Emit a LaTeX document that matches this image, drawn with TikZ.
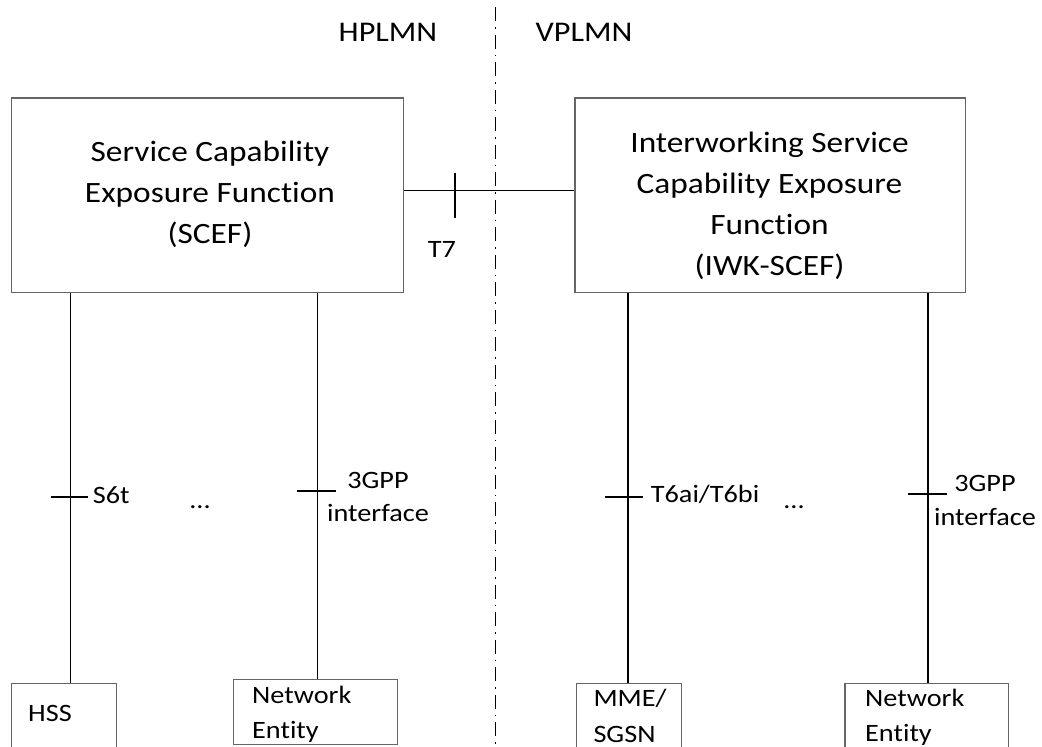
\documentclass[tikz,border=0pt]{standalone}
\usepackage{fontspec}
\setmainfont{Carlito}[FakeStretch=1.13, Ligatures=NoCommon]
\tikzset{
  box/.style={draw=black!60, line width=1.2pt, inner sep=0pt, anchor=north west},
  link/.style={draw=black, line width=1.3pt},
  tickmark/.style={draw=black, line width=1.3pt},
  title/.style={font=\fontsize{28.5}{34}\selectfont, inner sep=0pt, anchor=base},
  boxtext/.style={font=\fontsize{29.5}{41}\selectfont, align=center, inner sep=0pt},
  lbl/.style={font=\fontsize{25}{33.5}\selectfont, inner sep=0pt, anchor=base west},
  lblc/.style={font=\fontsize{25}{33.5}\selectfont, inner sep=0pt, align=center},
  border/.style={draw=black, line width=1.1pt, dash pattern=on 14pt off 6pt on 1.5pt off 6pt}
}
\begin{document}
\begin{tikzpicture}[x=1pt,y=-1pt]
\useasboundingbox (0,0) rectangle (1042,747);
% boxes
\node[box, minimum width=391.9pt, minimum height=194.7pt] (scef) at (10.7,97.3) {};
\node[box, minimum width=390.6pt, minimum height=194.7pt] (iwk) at (574.4,97.3) {};
\node[box, minimum width=105pt, minimum height=90pt] (hss) at (11,682.7) {};
\node[box, minimum width=164.1pt, minimum height=65pt] (ne1) at (232.6,679) {};
\node[box, minimum width=104.7pt, minimum height=90pt] (mme) at (576,682.7) {};
\node[box, minimum width=163.4pt, minimum height=90pt] (ne2) at (844.3,682.7) {};
% box texts
\node[boxtext] (scefT) at (210,194) {Service Capability\\Exposure Function\\(SCEF)};
\node[boxtext] (iwkT) at (769.5,206) {Interworking Service\\Capability Exposure\\Function\\(IWK-SCEF)};
\node[lbl] (hssT) at (28,721.7) {HSS};
\node[lbl] (ne1T) at (252,703.3) {Network};
\node[lbl] (ne1T2) at (252,738.3) {Entity};
\node[lbl] (mmeT) at (593.3,706.7) {MME/};
\node[lbl] (mmeT2) at (593.3,742.5) {SGSN};
\node[lbl] (ne2T) at (865,706.7) {Network};
\node[lbl] (ne2T2) at (865,741.7) {Entity};
% PLMN titles and border
\node[title] (hplmn) at (388,41.7) {HPLMN};
\node[title] (vplmn) at (584,41.7) {VPLMN};
\coordinate (btop) at (495.5,7);
\coordinate (bbot) at (495.5,760);
\draw[border] (btop) -- (bbot);
% T7
\draw[link] ([yshift=4.6pt]scef.east) -- ([yshift=4.6pt]iwk.west);
\coordinate (t7) at (455,190);
\draw[tickmark] ([yshift=17.3pt]t7) -- ([yshift=-28.3pt]t7);
\node[title, font=\fontsize{25}{30}\selectfont] (t7T) at (442,257) {T7};
% vertical links
\coordinate (x1) at (70.8,0);
\coordinate (x2) at (317.3,0);
\coordinate (x3) at (628,0);
\coordinate (x4) at (928,0);
\draw[link] (x1 |- scef.south) -- (x1 |- hss.north);
\draw[link] (x2 |- scef.south) -- (x2 |- ne1.north);
\draw[link] (x3 |- iwk.south) -- (x3 |- mme.north);
\draw[link] (x4 |- iwk.south) -- (x4 |- ne2.north);
% ticks on vertical links
\coordinate (k1) at (70.8,497);
\coordinate (k2) at (317.3,491);
\coordinate (k3) at (628,497);
\coordinate (k4) at (928,494);
\draw[tickmark] ([xshift=-20pt]k1) -- ([xshift=17pt]k1);
\draw[tickmark] ([xshift=-20pt]k2) -- ([xshift=19pt]k2);
\draw[tickmark] ([xshift=-23pt]k3) -- ([xshift=15pt]k3);
\draw[tickmark] ([xshift=-20pt]k4) -- ([xshift=19pt]k4);
% interface labels
\node[lbl] (s6t) at (92.7,503) {S6t};
\node[lbl] (t6) at (650.7,502.7) {T6ai/T6bi};
\node[lblc, anchor=base] (g1) at (378,521.7) {3GPP\\interface};
\node[lblc, anchor=base] (g2) at (985,525) {3GPP\\interface};
\node[lblc] (dots1) at (200,507) {...};
\node[lblc] (dots2) at (794,507) {...};
\end{tikzpicture}
\end{document}
